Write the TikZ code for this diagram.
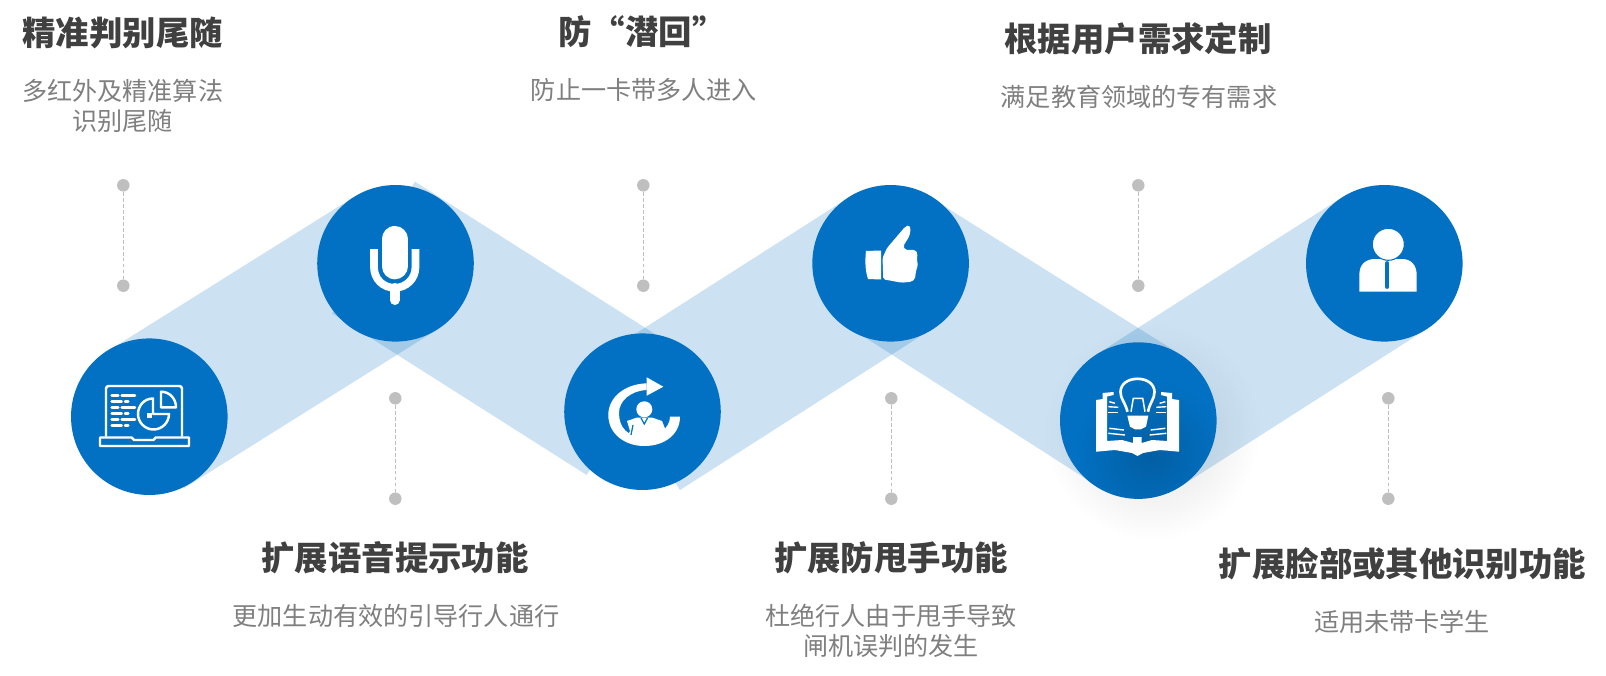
\documentclass[tikz,border=0pt]{standalone}
\usepackage{fontspec}
\setmainfont{Noto Sans CJK SC}
\usetikzlibrary{fadings}
\definecolor{bluedisc}{HTML}{0371C3}
\definecolor{blueband}{HTML}{0070C0}
\definecolor{graydot}{HTML}{BFBFBF}
\definecolor{graytitle}{HTML}{404040}
\definecolor{graytext}{HTML}{7F7F7F}
\tikzfading[name=softspot, inner color=transparent!87, outer color=transparent!100]
\tikzfading[name=darkspot, inner color=transparent!0, outer color=transparent!100]
\tikzset{
	disc/.style={circle,fill=bluedisc,inner sep=0pt,minimum size=3.132cm},
	band/.style={fill=blueband,fill opacity=0.2},
	dot/.style={circle,fill=graydot,inner sep=0pt,minimum size=0.25cm},
	dotline/.style={draw=graydot,line width=0.55pt,dash pattern=on 2.2pt off 1.2pt},
	titletext/.style={text=graytitle,font=\fontsize{19}{22}\selectfont\bfseries},
	subtext/.style={text=graytext,align=center,font=\fontsize{14.3}{17.07}\selectfont},
	iconline/.style={draw=white,line width=1.4pt},
	iconfill/.style={fill=white},
}
\begin{document}
\begin{tikzpicture}[x=0.02cm,y=-0.02cm]
	\useasboundingbox (0,0) rectangle (1606,676);
	\fill[band] (184.3,488) -- (101.5,355) -- (354.1,196.8) -- (436.9,329.8) -- cycle;
	\fill[band] (415,181.7) -- (332,313.4) -- (586.7,475) -- (669.7,343.3) -- cycle;
	\fill[band] (680,490) -- (597,358.3) -- (855,193.5) -- (938,325) -- cycle;
	\fill[band] (928,196) -- (847,326) -- (1092,482.7) -- (1175,351) -- cycle;
	\fill[band] (1180.5,486.5) -- (1096,354.7) -- (1342,197.4) -- (1426.5,329.2) -- cycle;
	\fill[black,path fading=softspot] (1152,432) circle (108);
	
	\node[disc] (discA) at (149.3,416.7) {};
	\node[disc] (discB) at (395.5,263.3) {};
	\node[disc] (discC) at (642.5,411.7) {};
	\node[disc] (discD) at (890.6,263.3) {};
	\node[disc] (discE) at (1138.3,420.6) {};
	\node[disc] (discF) at (1384.3,263.3) {};
	\begin{scope}
		\clip (1138.3,420.6) circle (78.3);
		\fill[black,opacity=0.16,path fading=darkspot] (1150,455) circle (75);
	\end{scope}
	
	\foreach \n/\x/\ya/\yb in {a/123.3/185.3/285.7,b/395.3/398.3/498.7,c/643.3/185.3/285.7,d/891.3/398.3/498.7,e/1138.3/185.3/285.7,f/1388.3/398.3/498.7}
	{
		\node[dot] (dot\n1) at (\x,\ya) {};
		\node[dot] (dot\n2) at (\x,\yb) {};
		\draw[dotline] (dot\n1) -- (dot\n2);
	}
	
	\node[titletext] (titleA) at (122.7,33) {精准判别尾随};
	\node[subtext] (subA) at (122.7,106) {多红外及精准算法\\识别尾随};
	\node[titletext] (titleB) at (642,32) {防“潜回”};
	\node[subtext] (subB) at (644,90) {防止一卡带多人进入};
	\node[titletext] (titleC) at (1138,39) {根据用户需求定制};
	\node[subtext] (subC) at (1139,97) {满足教育领域的专有需求};
	\node[titletext] (titleD) at (395,558) {扩展语音提示功能};
	\node[subtext] (subD) at (396,616) {更加生动有效的引导行人通行};
	\node[titletext] (titleE) at (891,558) {扩展防甩手功能};
	\node[subtext] (subE) at (891,631) {杜绝行人由于甩手导致\\闸机误判的发生};
	\node[titletext] (titleF) at (1402.5,564) {扩展脸部或其他识别功能};
	\node[subtext] (subF) at (1402,622) {适用未带卡学生};
	
	\draw[iconline,rounded corners=1.5] (106,436.5) -- (106,386) -- (182,386) -- (182,436.5);
	\draw[iconline,line join=round] (100,437.5) -- (131.7,437.5) -- (134,440) -- (153.5,440) -- (155.7,437.5) -- (189,437.5) -- (189,446) -- (100,446) -- cycle;
	\foreach \y/\xa/\xb/\xc/\xd in {395.7/111.7/118.3/121.7/135,401.7/111.7/121.7/125/128.3,407.7/111.7/118.3/121.7/135,413.7/111.7/121.7/125/128.3,419.7/111.7/118.3/121.7/135,425.7/111.7/121.7/125/128.3}
	{
		\draw[iconline,line cap=round] (\xa,\y) -- (\xb,\y);
		\draw[iconline,line cap=round] (\xc,\y) -- (\xd,\y);
	}
	\draw[iconline,line join=round] (153,398.5) .. controls (144,398.5) and (138,406) .. (138,414) .. controls (138,422.5) and (145,429.5) .. (153.5,429.5) .. controls (162,429.5) and (169,422.5) .. (169,414) -- (153,414) -- cycle;
	\fill[iconfill] (147,412.5) rectangle (152,417.5);
	\draw[iconline,line join=round] (161,391.7) .. controls (169.5,391.7) and (176,398.5) .. (176,407.3) -- (161,407.3) -- cycle;
	
	\draw[draw=white,line width=14.8pt,line cap=round] (394.7,239) -- (394.7,266.3);
	\draw[draw=white,line width=4.4pt] (374,249) -- (374,267) .. controls (374,279) and (383,287.8) .. (394.7,287.8) .. controls (406,287.8) and (415.5,279) .. (415.5,267) -- (415.5,249);
	\draw[draw=white,line width=5.7pt,line cap=round] (394.7,288) -- (394.7,300);
	
	\fill[iconfill] (646.7,383.3) .. controls (625,384) and (608.3,397) .. (608.3,415) .. controls (608.3,434) and (625,446) .. (644.3,446) .. controls (665,446) and (680,434) .. (680,416.7) -- (670,416.7) .. controls (670,428) and (658,437) .. (644,437) .. controls (628,437) and (619,428) .. (619,413) .. controls (619,401) and (630,391) .. (646.7,390) -- cycle;
	\fill[iconfill] (646.7,377.3) -- (663.3,386.7) -- (646.7,395.7) -- cycle;
	\fill[iconfill] (644.3,409.3) circle (8);
	\fill[iconfill] (627,421) -- (637,417.5) -- (652,417.5) -- (662,421) -- (666,431) -- (664,440) -- (626,440) -- (630,431) -- cycle;
	\draw[draw=bluedisc,line width=0.7pt] (641,418) -- (644.3,424) -- (647.5,418);
	\draw[draw=bluedisc,line width=0.7pt] (633,425) -- (631,435);
	
	\fill[iconfill] (866,251) -- (881,250.5) -- (881,279.5) -- (868,279) .. controls (865,270) and (865,260) .. (866,251) -- cycle;
	\fill[iconfill,rounded corners=1] (883.3,279.3) -- (882.5,258) -- (887,248) -- (905,226.9) -- (909.3,225) -- (910.7,228.8) -- (909.3,236.4) -- (903.3,246) -- (905,249.8) -- (915,249.8) -- (917.7,253.6) -- (916.7,259.3) -- (918,265) -- (916,270.8) -- (915,279) -- (911.7,281.7) -- (901.7,282.7) -- cycle;
	
	\fill[iconfill] (1096,400) -- (1102.7,399) -- (1102.7,393) -- (1113.5,392) -- (1113.5,395) -- (1107,396.5) -- (1107,441) -- (1122,440) -- (1133,443) -- (1133,437) -- (1141.7,437) -- (1141.7,443) -- (1152,440) -- (1167,441) -- (1167,396.5) -- (1161,395) -- (1161,392) -- (1172,393) -- (1172,399) -- (1179,400) -- (1179,451.7) -- (1160,450) -- (1143,453) -- (1137.5,456) -- (1132,453) -- (1115,450) -- (1096,451.7) -- cycle;
	\foreach \xa/\ya/\xb/\yb in {1109.3/401.7/1115/403.3,1108.3/406.7/1118.3/407.3,1108.3/412.3/1118.3/412.3,1109.3/428.3/1124/430,1108.3/433.3/1125/435,1165.3/401.7/1159.6/403.3,1166.3/406.7/1156.3/407.3,1166.3/412.3/1156.3/412.3,1165.3/428.3/1150.6/430,1166.3/433.3/1149.6/435}
	{
		\draw[iconline,line width=0.8pt] (\xa,\ya) -- (\xb,\yb);
	}
	\draw[iconline,line width=1.5pt,line join=round] (1127.5,411.7) .. controls (1125,402) and (1120.5,399) .. (1120.5,392) .. controls (1120.5,384) and (1128,378.8) .. (1137.5,378.8) .. controls (1147,378.8) and (1154.5,384) .. (1154.5,392) .. controls (1154.5,399) and (1150,402) .. (1148,411.7);
	\draw[iconline,line width=0.85pt] (1131,411.7) -- (1133.3,398.3) -- (1142.7,398.3) -- (1145,411.7);
	\fill[iconfill] (1127.3,415.7) -- (1148.3,415.7) -- (1146,426.7) -- (1140.7,429.3) -- (1135,429.3) -- (1130,426.7) -- cycle;
	
	\fill[iconfill] (1359.3,291.7) -- (1359.3,275) .. controls (1359.3,265) and (1365,259) .. (1375,259) -- (1402,259) .. controls (1411,259) and (1416.7,265) .. (1416.7,275) -- (1416.7,291.7) -- cycle;
	\draw[fill=white,draw=bluedisc,line width=0.6pt] (1388.3,244.3) circle (16);
	\draw[draw=bluedisc,line width=2.2pt,line cap=round] (1387.3,263) -- (1387.3,287);
\end{tikzpicture}
\end{document}
